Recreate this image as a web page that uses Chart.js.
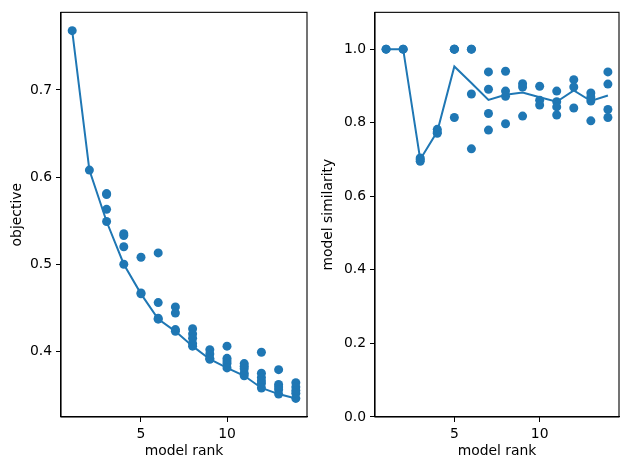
<!DOCTYPE html>
<html>
<head>
<meta charset="utf-8">
<script src="https://cdn.jsdelivr.net/npm/chart.js@4/dist/chart.umd.min.js"></script>
<style>
	body { margin: 0; background: #fff; }
	#wrap { position: relative; width: 629px; height: 470px; }
	canvas { position: absolute; top: 0; }
</style>
</head>
<body>
<div id="wrap">
	<canvas id="objChart" width="314" height="470" style="left:0"></canvas>
	<canvas id="simChart" width="315" height="470" style="left:314px"></canvas>
</div>
<script>
// left panel: objective of every model, line = best per rank
const objRanks = [1, 2, 3, 3, 3, 3, 4, 4, 4, 4, 5, 5, 5, 6, 6, 6, 6, 7, 7, 7, 7,
	8, 8, 8, 8, 8, 9, 9, 9, 9, 10, 10, 10, 10, 10, 11, 11, 11, 11, 11,
	12, 12, 12, 12, 12, 12, 13, 13, 13, 13, 13, 14, 14, 14, 14, 14];
const objValues = [0.768, 0.608, 0.581, 0.580, 0.563, 0.549, 0.535, 0.533, 0.520, 0.500,
	0.508, 0.467, 0.466, 0.513, 0.456, 0.438, 0.437, 0.451, 0.444, 0.425, 0.423,
	0.426, 0.420, 0.415, 0.409, 0.406, 0.402, 0.397, 0.392, 0.391,
	0.406, 0.392, 0.389, 0.386, 0.381, 0.386, 0.383, 0.380, 0.375, 0.372,
	0.399, 0.375, 0.370, 0.366, 0.363, 0.358, 0.379, 0.362, 0.359, 0.356, 0.351,
	0.364, 0.359, 0.355, 0.352, 0.346];
const lineRanks = [1, 2, 3, 4, 5, 6, 7, 8, 9, 10, 11, 12, 13, 14];
const objLine = [0.768, 0.608, 0.549, 0.500, 0.466, 0.437, 0.423, 0.406, 0.391, 0.381, 0.372, 0.358, 0.351, 0.346];

// right panel: similarity of every model, line = mean per rank
const simRanks = [1, 1, 2, 2, 3, 3, 3, 4, 4, 4, 5, 5, 5, 5, 6, 6, 6, 6, 7, 7, 7, 7,
	8, 8, 8, 8, 9, 9, 9, 10, 10, 10, 11, 11, 11, 11, 12, 12, 12, 13, 13, 13, 13, 14, 14, 14, 14];
const simValues = [1.0, 1.0, 1.0, 1.0, 0.704, 0.700, 0.695, 0.782, 0.775, 0.771,
	1.0, 1.0, 1.0, 0.814, 1.0, 1.0, 0.878, 0.729, 0.938, 0.891, 0.825, 0.780,
	0.940, 0.886, 0.872, 0.797, 0.906, 0.897, 0.818, 0.899, 0.861, 0.848,
	0.886, 0.857, 0.843, 0.821, 0.917, 0.897, 0.840, 0.881, 0.870, 0.859, 0.805,
	0.938, 0.905, 0.836, 0.814];
const simLine = [1.0, 1.0, 0.700, 0.776, 0.953, 0.908, 0.862, 0.876, 0.882, 0.869, 0.857, 0.888, 0.859, 0.874];

const xTicks = [5, 10];
const objTicks = [0.4, 0.5, 0.6, 0.7];
const simTicks = [0, 0.2, 0.4, 0.6, 0.8, 1.0];

const blue = "#1f77b4";
Chart.defaults.font.family = "DejaVu Sans";
Chart.defaults.font.size = 13.9;
Chart.defaults.color = "#000";

const boxPlugin = {
	id: "box",
	afterDraw: (chart) => {
		const a = chart.chartArea;
		const c = chart.ctx;
		c.save();
		c.strokeStyle = "#000";
		c.lineWidth = 1.1;
		c.strokeRect(a.left, a.top, a.right - a.left, a.bottom - a.top);
		c.restore();
	},
};

const toPoints = (xs, ys) => xs.map((x, i) => ({ x: x, y: ys[i] }));

const makeChart = (id, xs, ys, line, yMin, yMax, yTicks, yTitle, yTitlePad, rightPad) => {
	return new Chart(document.getElementById(id), {
		type: "scatter",
		data: {
			datasets: [
				{
					data: toPoints(lineRanks, line),
					showLine: true,
					borderColor: blue,
					borderWidth: 2,
					pointRadius: 0,
				},
				{
					data: toPoints(xs, ys),
					backgroundColor: blue,
					borderWidth: 0,
					pointRadius: 4.5,
				},
			],
		},
		options: {
			responsive: false,
			animation: false,
			devicePixelRatio: 1,
			layout: { padding: { top: 10, right: rightPad, left: 0, bottom: 0 } },
			plugins: { legend: { display: false }, tooltip: { enabled: false } },
			scales: {
				x: {
					type: "linear",
					min: 0.35,
					max: 14.65,
					afterBuildTicks: (s) => { s.ticks = xTicks.map((v) => ({ value: v })); },
					afterFit: (s) => { s.height = 53; },
					grid: { display: true, drawOnChartArea: false, drawTicks: true, tickLength: 5, color: "#000" },
					border: { display: true, color: "#000", width: 1.1 },
					ticks: { padding: 4 },
					title: { display: true, text: "model rank", padding: { top: 4, bottom: 10 } },
				},
				y: {
					type: "linear",
					min: yMin,
					max: yMax,
					afterBuildTicks: (s) => { s.ticks = yTicks.map((v) => ({ value: v })); },
					afterFit: (s) => { s.width = 61; },
					grid: { display: true, drawOnChartArea: false, drawTicks: true, tickLength: 5, color: "#000" },
					border: { display: true, color: "#000", width: 1.1 },
					ticks: { padding: 4, callback: (v) => v.toFixed(1) },
					title: { display: true, text: yTitle, padding: { top: yTitlePad, bottom: 4 } },
				},
			},
		},
		plugins: [boxPlugin],
	});
};

makeChart("objChart", objRanks, objValues, objLine, 0.3247, 0.789, objTicks, "objective", 9, 7);
makeChart("simChart", simRanks, simValues, simLine, 0, 1.1, simTicks, "model similarity", 6, 10);
</script>
</body>
</html>
